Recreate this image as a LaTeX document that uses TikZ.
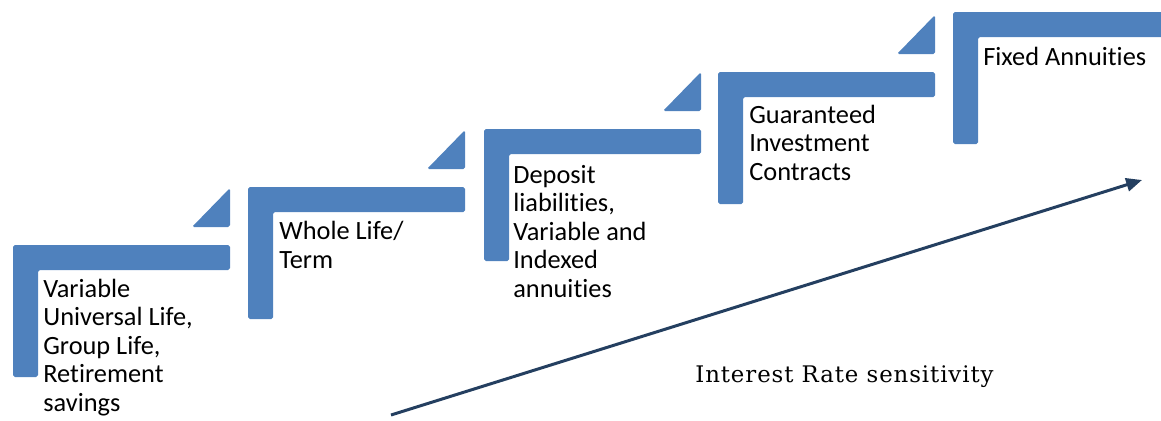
\documentclass[tikz,border=0pt]{standalone}
\usepackage{fontspec}
\setmainfont{Carlito}[Ligatures=NoCommon]
\newfontfamily\captionfont{DejaVu Serif}[LetterSpace=4]
\usepackage{xcolor}
\definecolor{stairblue}{HTML}{4F81BD}
\definecolor{trendnavy}{HTML}{243F60}
\usetikzlibrary{arrows.meta}

\begin{document}
\begin{tikzpicture}[x=0.02cm, y=-0.02cm, font=\fontsize{15}{16.2}\selectfont]
  \useasboundingbox (0,0) rectangle (1161,420);
  \clip (0,0) rectangle (1161,420);
  \tikzset{stair/.style={fill=stairblue, rounded corners=1pt},
           label/.style={anchor=base west, align=left, inner sep=0pt}}
  % stairs: left edge / top edge of each bracket
  \foreach \l/\t in {13/245, 248/187, 484/129, 718/72, 953/12} {
    \fill[stair] (\l,\t+132) -- (\l,\t) -- (\l+217,\t) -- (\l+217,\t+25)
      -- (\l+25,\t+25) -- (\l+25,\t+132) -- cycle;
    \fill[stair] (\l+217,\t-57) -- (\l+217,\t-18) -- (\l+179,\t-18) -- cycle;
  }
  % base anchor sits on the last line
  \node[label] (vul) at (43,411) {Variable\\Universal Life,\\Group Life,\\Retirement\\savings};
  \node[label] (wlt) at (279,268) {Whole Life/\\Term};
  \node[label] (dep) at (513,297) {Deposit\\liabilities,\\Variable and\\Indexed\\annuities};
  \node[label] (gic) at (749,180) {Guaranteed\\Investment\\Contracts};
  \node[label] (fix) at (983,65) {Fixed Annuities};
  % trend arrow
  \coordinate (low) at (391,415);
  \coordinate (high) at (1142,180);
  \draw[trendnavy, line width=1.7pt, -{Triangle[length=9pt,width=7.5pt]}] (low) -- (high);
  \node[label, font=\captionfont\fontsize{13}{15}\selectfont] (irs) at (695,382) {Interest Rate sensitivity};
\end{tikzpicture}
\end{document}
